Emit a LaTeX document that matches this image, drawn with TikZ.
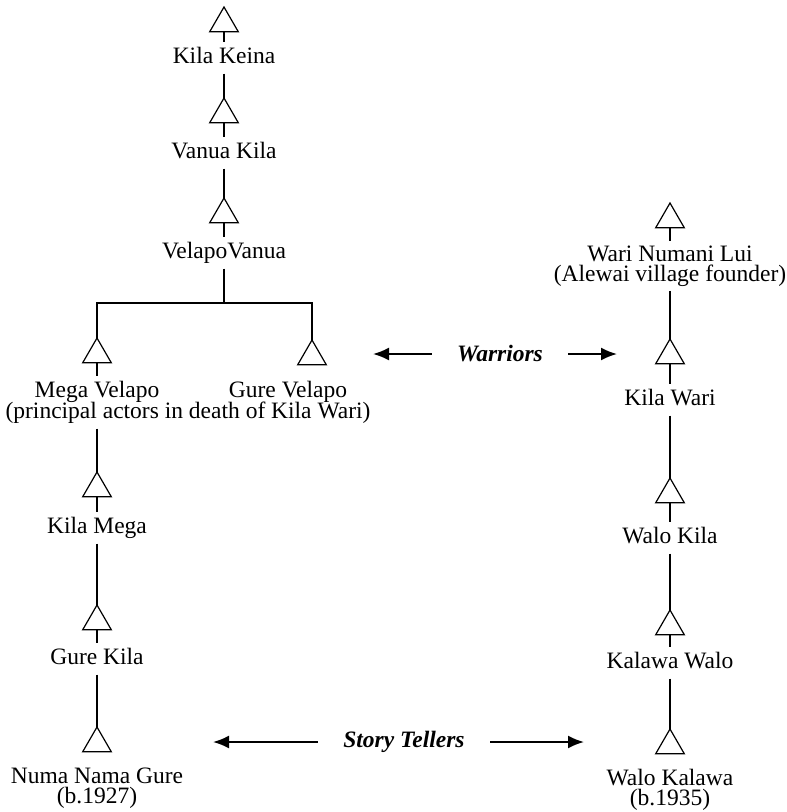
\documentclass[tikz,border=0pt]{standalone}
\usepackage{fontspec}
\setmainfont{Liberation Serif}
\usetikzlibrary{positioning,shapes.geometric,arrows.meta}

\begin{document}
\begin{tikzpicture}[x=1pt,y=-1pt,line width=1.2pt,
  tri/.style={draw,regular polygon,regular polygon sides=3,minimum size=33pt,inner sep=0pt,outer sep=0pt,anchor=north},
  lbl/.style={anchor=base,inner sep=4pt,text height=16pt,text depth=6pt,font=\fontsize{23.5}{21}\selectfont},
  lbl2/.style={anchor=north,inner sep=4pt,align=center,font=\fontsize{23.5}{20}\selectfont},
  tag/.style={inner xsep=25pt,font=\fontsize{23.5}{21}\selectfont\bfseries\itshape},
  arr/.style={-{Latex[length=16pt,width=13pt]},line width=1.9pt}]
  \useasboundingbox (0,0) rectangle (787,812);

  % left line
  \node[tri] (t0) at (224,7) {};
  \node[lbl] (l0) at (224,63) {Kila Keina};
  \node[tri] (t1) at (224,98) {};
  \node[lbl] (l1) at (224,158) {Vanua Kila};
  \node[tri] (t2) at (224,198) {};
  \node[lbl] (l2) at (224,258) {VelapoVanua};
  \coordinate (bar) at (224,303);
  \node[tri] (t3) at (97,338) {};
  \node[lbl] (l3) at (97,397) {Mega Velapo};
  \node[tri] (t4) at (312,340) {};
  \node[lbl] (l4) at (288,397) {Gure Velapo};
  \node[lbl] (l34) at (188,418) {(principal actors in death of Kila Wari)};
  \node[tri] (t5) at (97,472) {};
  \node[lbl] (l5) at (97,533) {Kila Mega};
  \node[tri] (t6) at (97,605) {};
  \node[lbl] (l6) at (97,664) {Gure Kila};
  \node[tri] (t7) at (97,727) {};
  \node[lbl2] (l7) at (97,763) {Numa Nama Gure\\(b.1927)};

  % right line
  \node[tri] (r0) at (670,203) {};
  \node[lbl2] (m0) at (670,241) {Wari Numani Lui\\(Alewai village founder)};
  \node[tri] (r1) at (670,339) {};
  \node[lbl] (m1) at (670,405) {Kila Wari};
  \node[tri] (r2) at (670,478) {};
  \node[lbl] (m2) at (670,543) {Walo Kila};
  \node[tri] (r3) at (670,610) {};
  \node[lbl] (m3) at (670,668) {Kalawa Walo};
  \node[tri] (r4) at (670,729) {};
  \node[lbl2] (m4) at (670,765) {Walo Kalawa\\(b.1935)};

  \node[tag] (war) at (500,354) {Warriors};
  \coordinate (warl) at (373,354);
  \coordinate (warr) at (617,354);
  \node[tag] (story) at (404,742) {Story Tellers};
  \coordinate (stl) at (213,742);
  \coordinate (str) at (584,742);

  \draw (t0.south) -- (l0.north) (l0.south) -- (t1.north);
  \draw (t1.south) -- (l1.north) (l1.south) -- (t2.north);
  \draw (t2.south) -- (l2.north) (l2.south) -- (bar);
  \draw (t3.north) |- (bar) -| (t4.north);
  \draw (t3.south) -- (l3.north);
  \draw (l34.south -| t5.north) -- (t5.north);
  \draw (t5.south) -- (l5.north) (l5.south) -- (t6.north);
  \draw (t6.south) -- (l6.north) (l6.south) -- (t7.north);

  \draw (r0.south) -- (m0.north) (m0.south) -- (r1.north);
  \draw (r1.south) -- (m1.north) (m1.south) -- (r2.north);
  \draw (r2.south) -- (m2.north) (m2.south) -- (r3.north);
  \draw (r3.south) -- (m3.north) (m3.south) -- (r4.north);

  \draw[arr] (war) -- (warl);
  \draw[arr] (war) -- (warr);
  \draw[arr] (story) -- (stl);
  \draw[arr] (story) -- (str);
\end{tikzpicture}
\end{document}
